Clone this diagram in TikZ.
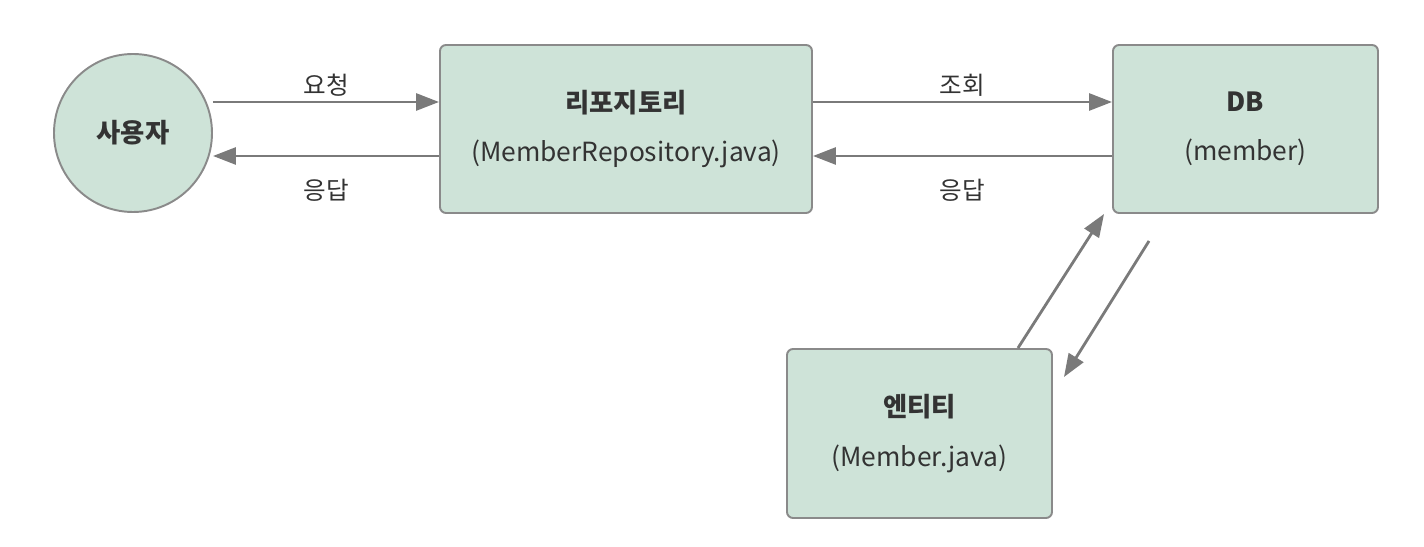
\documentclass[tikz,border=0pt]{standalone}
\usepackage{fontspec}
\setmainfont{Noto Sans CJK KR}
\usepackage{tikz}
\usetikzlibrary{arrows.meta}

\definecolor{boxfill}{HTML}{CEE3D8}
\definecolor{boxline}{HTML}{8A8A8A}
\definecolor{flowgray}{HTML}{7A7A7A}
\definecolor{textgray}{HTML}{333333}

\tikzset{
  part/.style = {draw = boxline, fill = boxfill, line width = 1.1pt,
    rounded corners = 1.2mm, align = center, text = textgray,
    minimum height = 3.36cm,
    font = \fontsize{15}{28}\selectfont},
  actor/.style = {circle, draw = boxline, fill = boxfill, line width = 1.1pt,
    minimum size = 3.16cm, text = textgray,
    font = \fontsize{15}{18}\selectfont\bfseries},
  flow/.style = {draw = flowgray, line width = 1.6pt,
    -{Triangle[length = 4.6mm, width = 3.4mm]}},
  tag/.style = {text = textgray, font = \fontsize{14}{16}\selectfont}
}

\begin{document}
\begin{tikzpicture}
  \useasboundingbox (0,0) rectangle (28.48,10.94);

  \node [actor] (user) at (2.66,8.28) {사용자};
  \node [part, minimum width = 7.44cm] (repo) at (12.52,8.36)
    {\textbf{리포지토리}\\(MemberRepository.java)};
  \node [part, minimum width = 5.3cm] (db) at (24.91,8.36)
    {\textbf{DB}\\(member)};
  \node [part, minimum width = 5.3cm, minimum height = 3.38cm] (entity) at (18.39,2.27)
    {\textbf{엔티티}\\(Member.java)};

  % upper and lower lanes
  \coordinate (up) at ([yshift = 5.4mm]repo.west);
  \coordinate (down) at ([yshift = -5.4mm]repo.west);
  \coordinate (dbup) at ([yshift = 5.4mm]db.west);
  \coordinate (dbdown) at ([yshift = -5.4mm]db.west);

  \draw [flow] (up -| user.east) -- (up)
    node [tag, midway, yshift = 3.4mm] {요청};
  \draw [flow] (down) -- (down -| user.east)
    node [tag, midway, yshift = -6.8mm] {응답};
  \draw [flow] (repo.east |- dbup) -- (dbup)
    node [tag, midway, yshift = 3.4mm] {조회};
  \draw [flow] (dbdown) -- (repo.east |- dbdown)
    node [tag, midway, yshift = -6.8mm] {응답};

  % entity <-> db
  \coordinate (eout) at ([xshift = -7mm]entity.north east);
  \coordinate (din) at ([xshift = -1.6mm]db.south west);
  \coordinate (dout) at ([shift = {(7.4mm,-5.4mm)}]db.south west);
  \coordinate (ein) at ([shift = {(2.2mm,-5.8mm)}]entity.north east);
  \draw [flow] (eout) -- (din);
  \draw [flow] (dout) -- (ein);
\end{tikzpicture}
\end{document}
